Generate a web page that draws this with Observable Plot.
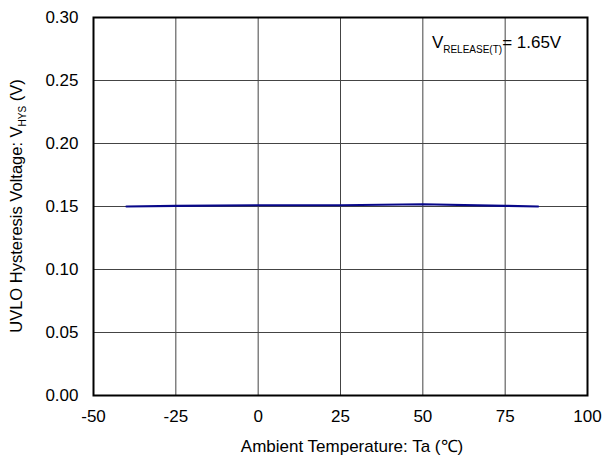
<!DOCTYPE html>
<html>
<head>
<meta charset="utf-8">
<script src="https://cdn.jsdelivr.net/npm/d3@7"></script>
<script src="https://cdn.jsdelivr.net/npm/@observablehq/plot@0.6"></script>
<style>
  html, body { margin: 0; padding: 0; background: #fff; }
  #chart svg { display: block; }
</style>
</head>
<body>
<div id="chart"></div>
<script>
// Data
const temperatures = [-40, -25, 0, 25, 50, 75, 85];
const hysteresis = [0.150, 0.1505, 0.151, 0.151, 0.1518, 0.1505, 0.150];
const xTicks = [-50, -25, 0, 25, 50, 75, 100];
const yTicks = [0, 0.05, 0.10, 0.15, 0.20, 0.25, 0.30];
const xLabel = "Ambient Temperature: Ta (℃)";
const yLabelMain = "UVLO Hysteresis Voltage: V";
const yLabelSub = "HYS";
const yLabelEnd = " (V)";
const noteMain = "V";
const noteSub = "RELEASE(T)";
const noteEnd = "= 1.65V";
const notePos = {x: 52.9, y: 0.2754};

const data = temperatures.map((t, i) => ({t, v: hysteresis[i]}));

const plot = Plot.plot({
  width: 603,
  height: 459,
  marginLeft: 93,
  marginRight: 16,
  marginTop: 17,
  marginBottom: 64,
  style: {fontFamily: "Liberation Sans, Arial, sans-serif", fontSize: "17px", color: "#000", background: "#fff"},
  x: {domain: [-50, 100], ticks: xTicks, tickSize: 0, tickPadding: 14, tickFormat: d => String(d), label: null},
  y: {domain: [0, 0.30], ticks: yTicks, tickSize: 0, tickPadding: 15, tickFormat: d3.format(".2f"), label: null},
  marks: [
    Plot.ruleX(xTicks.slice(1, -1), {stroke: "#444", strokeWidth: 1}),
    Plot.ruleY(yTicks.slice(1, -1), {stroke: "#444", strokeWidth: 1}),
    Plot.line(data, {x: "t", y: "v", stroke: "#08088a", strokeWidth: 2.2}),
    Plot.frame({stroke: "#000", strokeWidth: 2})
  ]
});

document.getElementById("chart").appendChild(plot);

const svg = d3.select(plot);
const xs = plot.scale("x"), ys = plot.scale("y");

// x axis label
svg.append("text")
  .attr("x", (xs.apply(-50) + xs.apply(100)) / 2 + 12)
  .attr("y", 452)
  .attr("text-anchor", "middle")
  .attr("font-size", 17)
  .attr("fill", "#000")
  .text(xLabel);

// y axis label with subscript
const yl = svg.append("text")
  .attr("transform", `translate(22,${(ys.apply(0) + ys.apply(0.30)) / 2}) rotate(-90)`)
  .attr("text-anchor", "middle")
  .attr("font-size", 16.5)
  .attr("fill", "#000");
yl.append("tspan").text(yLabelMain);
yl.append("tspan").attr("font-size", 10).attr("dy", 4).text(yLabelSub);
yl.append("tspan").attr("dy", -4).text(yLabelEnd);

// annotation
const nt = svg.append("text")
  .attr("x", xs.apply(notePos.x))
  .attr("y", ys.apply(notePos.y))
  .attr("text-anchor", "start")
  .attr("font-size", 17)
  .attr("fill", "#000");
nt.append("tspan").text(noteMain);
nt.append("tspan").attr("font-size", 10).attr("dy", 5).text(noteSub);
nt.append("tspan").attr("dy", -5).text(noteEnd);
</script>
</body>
</html>
